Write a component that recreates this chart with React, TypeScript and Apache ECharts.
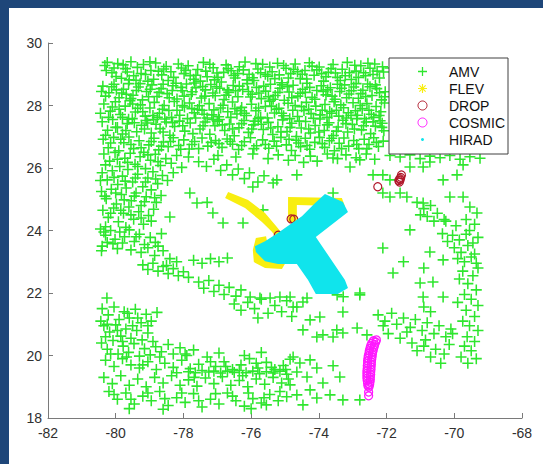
import React, { useEffect, useRef } from "react";
import * as echarts from "echarts";

// ---- AMV wind vectors (lon, lat) ----
const amvNorthBand: number[][] = [
  [-80.32,29.28],[-80.11,29.05],[-79.94,29.34],[-79.83,28.87],[-79.71,29.18],[-79.55,29.40],[-79.47,28.95],[-79.36,29.22],[-79.18,29.31],[-79.05,28.78],
  [-78.96,29.12],[-78.82,29.36],[-78.64,28.98],[-78.51,29.25],[-78.37,29.08],[-78.22,28.71],[-78.15,29.33],[-77.98,29.02],[-77.86,29.27],[-77.70,28.84],
  [-77.58,29.15],[-77.41,29.38],[-77.30,28.92],[-77.12,29.21],[-77.01,29.04],[-76.88,28.75],[-76.74,29.30],[-76.59,29.11],[-76.47,28.88],[-76.35,29.24],
  [-76.18,29.39],[-76.06,29.00],[-75.92,28.80],[-75.80,29.17],[-75.66,29.32],[-75.51,28.94],[-75.38,29.08],[-75.22,29.35],[-75.10,28.73],[-74.97,29.19],
  [-74.83,29.02],[-74.70,29.33],[-74.55,28.86],[-74.41,29.12],[-74.28,29.37],[-74.14,28.97],[-73.99,29.23],[-73.86,28.78],[-73.72,29.06],[-73.58,29.31],
  [-73.45,28.90],[-73.31,29.16],[-73.16,29.38],[-73.04,28.83],[-72.90,29.10],[-72.76,29.27],[-72.62,28.95],[-72.49,29.19],[-72.35,29.33],[-72.21,28.88],
  [-72.09,29.07],[-71.90,29.20],[-71.60,28.90],[-71.30,29.25],[-71.00,28.70],[-70.60,29.10],[-70.20,28.85],[-69.90,29.20],[-69.50,28.95],
  [-80.38,28.62],[-80.20,28.41],[-80.05,28.68],[-79.90,28.25],[-79.77,28.52],[-79.62,28.70],[-79.49,28.33],[-79.33,28.59],[-79.21,28.18],[-79.09,28.45],
  [-78.93,28.66],[-78.78,28.29],[-78.66,28.54],[-78.48,28.38],[-78.31,28.63],[-78.19,28.21],[-78.03,28.47],[-77.91,28.69],[-77.77,28.35],[-77.63,28.57],
  [-77.47,28.24],[-77.35,28.50],[-77.19,28.67],[-77.06,28.31],[-76.93,28.55],[-76.80,28.19],[-76.66,28.42],[-76.53,28.64],[-76.39,28.28],[-76.25,28.51],
  [-76.11,28.70],[-75.97,28.36],[-75.84,28.58],[-75.70,28.22],[-75.57,28.46],[-75.43,28.68],[-75.29,28.32],[-75.15,28.55],[-75.02,28.17],[-74.88,28.43],
  [-74.76,28.65],[-74.62,28.30],[-74.48,28.52],[-74.35,28.71],[-74.20,28.26],[-74.06,28.48],[-73.93,28.63],[-73.79,28.34],[-73.66,28.57],[-73.52,28.20],
  [-73.38,28.45],[-73.24,28.66],[-73.11,28.37],[-72.97,28.59],[-72.83,28.23],[-72.70,28.49],[-72.56,28.69],[-72.43,28.32],[-72.29,28.54],[-72.15,28.18],
  [-72.04,28.44],
  [-80.35,28.05],[-80.16,27.82],[-80.01,28.12],[-79.86,27.71],[-79.72,27.98],[-79.58,28.15],[-79.42,27.79],[-79.27,28.02],[-79.13,27.66],[-78.99,27.92],
  [-78.86,28.10],[-78.71,27.75],[-78.57,28.00],[-78.43,27.84],[-78.27,28.13],[-78.11,27.69],[-77.97,27.95],[-77.82,28.08],[-77.68,27.77],[-77.53,27.99],
  [-77.39,27.72],[-77.24,28.06],[-77.10,27.86],[-76.96,27.64],[-76.83,28.01],[-76.69,27.80],[-76.55,28.11],[-76.42,27.73],[-76.28,27.94],[-76.14,27.68],
  [-75.99,28.04],[-75.86,27.83],[-75.72,27.62],[-75.58,27.97],[-75.45,28.14],[-75.31,27.76],[-75.18,27.91],[-75.04,27.67],[-74.91,28.07],[-74.77,27.85],
  [-74.63,27.65],[-74.51,27.96],[-74.37,28.10],[-74.23,27.74],[-74.09,27.98],[-73.96,27.70],[-73.82,28.03],[-73.68,27.81],[-73.55,28.12],[-73.41,27.66],
  [-73.27,27.93],[-73.13,27.77],[-72.99,28.09],[-72.86,27.69],[-72.72,27.90],[-72.58,28.06],[-72.45,27.72],[-72.31,27.97],[-72.17,27.80],[-72.06,28.08],
  [-80.40,27.48],[-80.24,27.21],[-80.09,27.55],[-79.95,27.30],[-79.80,27.09],[-79.66,27.42],[-79.51,27.58],[-79.38,27.16],[-79.24,27.37],[-79.10,27.52],
  [-78.95,27.12],[-78.81,27.40],[-78.69,27.26],[-78.55,27.57],[-78.40,27.05],[-78.26,27.33],[-78.12,27.50],[-77.96,27.18],[-77.80,27.44],[-77.64,27.60],
  [-77.51,27.25],[-77.36,27.47],[-77.22,27.08],[-77.07,27.35],[-76.94,27.55],[-76.78,27.20],[-76.64,27.41],[-76.50,27.03],[-76.36,27.29],[-76.21,27.52],
  [-76.08,27.14],[-75.93,27.38],[-75.79,27.58],[-75.64,27.23],[-75.49,27.46],[-75.36,27.07],[-75.21,27.32],[-75.07,27.54],[-74.94,27.17],[-74.80,27.43],
  [-74.66,27.01],[-74.52,27.28],[-74.39,27.49],[-74.25,27.12],[-74.11,27.36],[-73.97,27.57],[-73.84,27.20],[-73.70,27.45],[-73.57,27.04],[-73.43,27.31],
  [-73.29,27.53],[-73.15,27.15],[-73.01,27.39],[-72.88,27.58],[-72.74,27.22],[-72.60,27.47],[-72.47,27.10],[-72.33,27.34],[-72.19,27.51],[-72.08,27.19],
  [-80.37,26.92],[-80.22,26.65],[-80.06,26.98],[-79.91,26.55],[-79.76,26.81],[-79.61,26.99],[-79.47,26.62],[-79.31,26.87],[-79.17,26.50],[-79.02,26.74],
  [-78.87,26.95],[-78.73,26.58],[-78.59,26.83],[-78.45,26.68],[-78.30,26.97],[-78.14,26.72],[-77.99,26.90],[-77.83,26.61],[-77.67,26.85],[-77.45,26.96],
  [-77.28,26.70],[-77.05,26.88],[-76.86,26.66],[-76.71,26.93],[-76.55,26.76],[-76.37,26.59],[-76.20,26.84],[-76.02,26.97],[-75.84,26.71],[-75.66,26.90],
  [-75.48,26.63],[-75.32,26.86],[-75.12,26.98],[-74.96,26.74],[-74.81,26.56],[-74.67,26.89],[-74.54,26.68],[-74.40,26.95],[-74.27,26.60],[-74.12,26.82],
  [-73.98,26.98],[-73.83,26.66],[-73.69,26.87],[-73.54,26.55],[-73.40,26.79],[-73.26,26.96],[-73.12,26.70],[-72.97,26.88],[-72.82,26.62],[-72.66,26.92],
  [-72.52,26.75],[-72.38,26.97],[-72.24,26.69],[-72.10,26.86],
  [-80.28,29.12],[-79.99,28.93],[-79.66,29.07],[-79.40,28.81],[-79.12,28.99],[-78.88,28.84],[-78.58,29.17],[-78.29,28.90],[-77.93,29.13],[-77.63,28.97],
  [-77.34,29.10],[-77.08,28.82],[-76.81,29.06],[-76.51,28.96],[-76.23,29.14],[-75.96,28.89],[-75.72,29.05],[-75.45,29.23],[-75.17,28.98],[-74.90,28.88],
  [-74.63,29.08],[-74.36,28.85],[-74.06,29.14],[-73.79,28.92],[-73.51,29.04],[-73.22,28.95],[-72.94,29.29],[-72.68,29.05],[-72.40,28.99],[-72.12,29.24],
  [-80.30,28.30],[-79.98,28.50],[-79.69,28.36],[-79.39,28.48],[-79.03,28.28],[-78.72,28.42],[-78.42,28.25],[-78.07,28.58],[-77.74,28.44],[-77.43,28.61],
  [-77.13,28.40],[-76.74,28.33],[-76.46,28.47],[-76.02,28.27],[-75.77,28.40],[-75.49,28.28],[-75.21,28.42],[-74.93,28.60],[-74.55,28.39],[-74.27,28.58],
  [-73.87,28.45],[-73.61,28.30],[-73.33,28.55],[-73.04,28.47],[-72.76,28.38],[-72.49,28.60],[-72.21,28.41],
  [-80.21,27.62],[-79.90,27.88],[-79.62,27.56],[-79.35,27.91],[-79.06,27.44],[-78.77,27.62],[-78.51,27.47],[-78.19,27.85],[-77.88,27.58],[-77.58,27.87],
  [-77.30,27.60],[-77.00,27.50],[-76.60,27.62],[-76.31,27.83],[-75.89,27.50],[-75.52,27.60],[-75.25,27.88],[-74.86,27.58],[-74.44,27.84],[-74.16,27.59],
  [-73.76,27.62],[-73.48,27.85],[-73.19,27.60],[-72.92,27.83],[-72.65,27.58],[-72.38,27.62],[-72.13,27.43],
  [-80.25,29.38],[-80.05,29.20],[-79.78,29.30],[-79.60,28.82],[-79.25,29.02],[-78.99,29.40],[-78.74,29.10],[-78.45,28.80],[-78.06,29.20],[-77.80,28.95],
  [-77.50,28.78],[-77.22,29.32],[-76.98,28.90],[-76.68,29.18],[-76.40,29.02],[-76.12,28.82],[-75.86,29.34],[-75.58,29.00],[-75.30,28.86],[-75.04,29.28],
  [-74.75,29.15],[-74.49,29.00],[-74.20,29.26],[-73.92,29.02],[-73.64,29.18],[-73.37,28.80],[-73.10,29.05],[-72.83,28.90],[-72.55,29.35],[-72.28,29.10],
  [-80.42,28.45],[-80.12,28.60],[-79.82,28.40],[-79.55,28.22],[-79.28,28.70],[-78.98,28.52],[-78.60,28.68],[-78.33,28.48],[-77.98,28.30],[-77.68,28.72],
  [-77.37,28.30],[-77.02,28.60],[-76.70,28.50],[-76.35,28.62],[-76.08,28.45],[-75.63,28.62],[-75.35,28.20],[-75.08,28.66],[-74.80,28.25],[-74.40,28.42],
  [-74.12,28.20],[-73.74,28.50],[-73.45,28.68],[-73.18,28.25],[-72.90,28.70],[-72.62,28.28],[-72.33,28.66],[-72.05,28.28],
  [-80.45,27.75],[-80.10,27.95],[-79.80,27.62],[-79.50,28.05],[-79.20,27.80],[-78.90,27.68],[-78.62,27.88],[-78.35,27.62],[-78.03,28.00],[-77.75,27.90],
  [-77.45,27.85],[-77.16,27.70],[-76.90,27.92],[-76.48,27.90],[-76.20,27.75],[-75.78,27.92],[-75.40,27.98],[-75.10,27.75],[-74.70,28.00],[-74.30,27.88],
  [-73.90,27.85],[-73.62,27.75],[-73.35,28.02],[-73.05,27.68],[-72.78,28.00],[-72.52,27.85],[-72.22,27.68],
  [-80.30,27.05],[-80.00,27.30],[-79.70,27.20],[-79.45,27.45],[-79.15,27.25],[-78.88,27.55],[-78.60,27.15],[-78.32,27.45],[-78.02,27.35],[-77.72,27.10],
  [-77.42,27.35],[-77.12,27.55],[-76.85,27.38],[-76.55,27.25],[-76.28,27.42],[-75.98,27.25],[-75.70,27.40],[-75.42,27.28],[-75.12,27.15],[-74.85,27.30],
  [-74.58,27.50],[-74.30,27.25],[-74.00,27.15],[-73.75,27.38],[-73.48,27.18],[-73.20,27.42],[-72.95,27.25],[-72.68,27.35],[-72.40,27.48],[-72.14,27.30],
  [-80.15,26.80],[-79.85,26.92],[-79.55,26.75],[-79.25,26.65],[-78.95,26.85],[-78.65,26.70],[-78.38,26.85],[-78.08,26.60],[-77.75,26.75],[-77.55,26.62],
  [-77.18,26.82],[-76.95,26.78],[-76.62,26.85],[-76.28,26.72],[-75.92,26.62],[-75.58,26.75],[-75.25,26.70],[-74.88,26.92],[-74.60,26.80],[-74.35,26.72],
  [-73.90,26.78],[-73.62,26.95],[-73.33,26.62],[-72.88,26.75],[-72.58,26.62],[-72.30,26.82],
  [-77.55,26.20],[-77.32,26.05],[-77.10,26.28],[-76.90,25.92],[-76.72,26.10],[-76.55,25.78],[-76.38,25.97],[-76.20,25.66],[-76.05,25.85],[-75.80,25.55],
  [-75.62,25.75],[-76.98,26.40],[-76.45,26.35],[-75.95,26.45],[-75.50,26.30],[-75.20,26.42],[-74.90,26.25],[-74.70,26.40],[-74.45,26.18],[-74.25,26.38],
  [-74.05,26.22],[-73.75,26.45],[-73.45,26.30],[-73.20,26.42],[-72.90,26.33],[-72.60,26.45],[-72.35,26.28],
];

const amvWestColumn: number[][] = [
  [-80.35,26.45],[-80.18,26.22],[-80.02,26.50],[-79.88,26.05],[-79.73,26.31],[-79.57,26.47],[-79.43,26.12],[-79.28,26.36],[-79.12,25.98],[-78.97,26.25],
  [-78.83,26.44],[-78.68,26.08],[-78.52,26.30],[-78.36,26.15],[-78.20,26.40],[-78.05,26.02],[-77.85,26.35],
  [-80.40,25.85],[-80.25,25.62],[-80.10,25.91],[-79.94,25.47],[-79.80,25.74],[-79.64,25.95],[-79.50,25.55],[-79.35,25.80],[-79.20,25.40],[-79.05,25.68],
  [-78.90,25.88],[-78.76,25.50],[-78.62,25.76],[-78.47,25.60],[-78.30,25.85],
  [-80.42,25.25],[-80.28,25.02],[-80.13,25.32],[-79.98,24.85],[-79.83,25.15],[-79.69,25.36],[-79.54,24.95],[-79.40,25.20],[-79.25,24.80],[-79.10,25.08],
  [-78.95,25.30],[-78.80,24.90],[-78.66,25.12],
  [-80.38,24.65],[-80.22,24.42],[-80.06,24.72],[-79.92,24.28],[-79.77,24.55],[-79.61,24.75],[-79.47,24.36],[-79.32,24.60],[-79.18,24.20],[-79.03,24.48],
  [-78.88,24.68],[-80.30,24.12],[-79.70,24.10],
  [-80.45,24.05],[-80.30,23.85],[-80.15,24.00],[-80.02,23.72],[-79.88,23.95],[-79.74,23.80],[-79.60,24.02],[-79.45,23.65],[-79.30,23.88],[-79.15,23.55],
  [-78.98,23.78],[-78.83,23.62],[-78.65,23.90],[-80.40,23.50],[-80.25,23.62],[-80.42,23.35],[-79.95,23.42],[-79.55,23.38],[-79.25,23.30],[-79.05,23.45],
  [-78.85,23.20],[-78.60,23.35],[-78.40,23.10],[-78.20,23.00],[-78.50,22.88],
  [-80.30,26.10],[-79.95,26.28],[-79.65,26.18],[-79.35,26.05],[-79.05,26.42],[-78.75,26.20],[-80.45,25.60],[-80.05,25.70],[-79.72,25.58],[-79.42,25.68],
  [-79.12,25.55],[-78.82,25.65],[-80.32,25.10],[-80.00,25.20],[-79.75,24.98],[-79.45,25.10],[-79.15,24.92],[-78.85,25.05],[-80.15,24.55],[-79.85,24.65],
  [-79.55,24.50],[-79.25,24.40],[-78.95,24.30],[-80.35,23.95],[-80.08,23.58],[-79.80,23.60],[-79.40,23.80],[-78.75,23.50],
];

const amvCentralBelt: number[][] = [
  [-79.20,22.90],[-79.05,22.75],[-78.90,22.95],[-78.75,22.70],[-78.60,22.85],[-78.45,22.62],[-78.30,22.78],[-78.15,22.55],[-78.00,22.68],[-77.85,22.50],
  [-77.70,23.05],[-77.45,22.95],[-77.20,23.10],[-76.95,23.00],[-76.70,23.12],
  [-77.55,22.35],[-77.40,22.15],[-77.25,22.40],[-77.10,22.05],[-76.95,22.25],[-76.80,21.95],[-76.65,22.18],[-76.45,21.90],[-76.30,22.10],
  [-76.50,21.65],[-76.30,21.45],[-76.10,21.70],[-75.90,21.50],[-75.70,21.80],[-75.50,21.35],[-75.30,21.60],[-75.10,21.40],[-74.95,21.75],[-74.80,21.25],
  [-74.65,21.55],[-75.80,21.20],
  [-76.03,21.87],[-75.74,21.84],[-75.44,21.84],[-75.15,21.87],[-74.85,21.87],[-74.35,21.84],[-73.46,21.94],[-73.28,21.88],[-72.79,22.00],
  [-74.47,21.71],[-74.76,21.55],[-73.97,21.23],[-74.26,21.14],[-73.29,21.39],[-74.47,20.82],[-74.06,20.59],[-73.88,20.66],[-73.47,20.82],[-73.58,20.59],
  [-73.29,20.72],[-72.87,20.88],[-72.58,20.66],[-72.79,21.94],
  [-78.40,24.43],[-77.81,25.20],[-77.60,24.88],[-77.30,24.90],[-77.13,24.56],[-76.83,24.24],[-76.24,24.24],[-75.65,24.66],[-75.95,25.39],[-75.35,25.52],
  [-75.24,25.62],[-80.26,21.84],
];

const amvSouthBand: number[][] = [
  [-80.40,21.50],[-80.22,21.30],[-80.05,21.55],[-79.90,21.15],[-79.75,21.40],[-79.60,21.20],[-79.42,21.48],[-79.25,21.05],[-79.10,21.32],[-78.95,21.10],
  [-78.78,21.38],[-80.35,20.95],[-80.18,20.75],[-80.00,20.98],[-79.85,20.62],[-79.70,20.85],[-79.55,20.55],[-79.38,20.80],[-79.22,20.50],[-79.05,20.72],
  [-78.90,20.45],[-80.42,20.40],[-80.25,20.20],[-80.08,20.48],[-79.93,20.05],[-79.78,20.30],[-79.62,20.10],[-79.46,20.38],[-79.30,19.98],[-79.15,20.22],
  [-78.98,20.02],[-78.82,20.28],[-78.65,20.12],[-78.45,20.35],[-78.30,20.05],[-78.10,20.25],[-77.90,20.00],[-77.70,20.18],[-80.44,21.10],[-79.50,20.95],
  [-80.30,19.85],[-80.05,19.65],[-79.80,19.90],[-79.55,19.70],[-79.30,19.60],[-79.05,19.80],[-78.80,19.55],[-78.55,19.75],[-78.30,19.62],[-78.05,19.85],
  [-77.80,19.58],[-77.55,19.72],[-77.30,19.95],[-77.05,19.65],[-76.80,19.80],[-76.55,19.55],[-76.30,19.70],[-76.05,19.90],[-75.80,19.60],[-75.55,19.78],
  [-75.30,19.55],[-75.05,19.68],[-74.85,19.88],[-77.95,20.05],[-76.95,20.08],[-76.20,20.00],[-75.70,20.10],
  [-77.85,19.48],[-77.65,19.45],[-77.45,19.52],[-77.25,19.47],[-77.10,19.50],[-76.90,19.44],[-76.70,19.50],[-76.50,19.46],[-76.35,19.52],[-76.15,19.45],
  [-75.95,19.50],[-75.75,19.42],[-75.55,19.48],[-75.35,19.44],[-75.15,19.50],[-74.95,19.40],
  [-80.35,19.30],[-80.10,19.10],[-79.85,19.35],[-79.60,19.05],[-79.35,19.25],[-79.10,19.00],[-78.85,19.30],[-78.60,19.12],[-78.35,19.35],[-78.10,19.05],
  [-77.85,19.22],[-77.60,19.02],[-77.35,19.28],[-77.10,19.10],[-76.85,19.32],[-76.60,19.05],[-76.35,19.20],[-76.10,19.00],[-75.85,19.25],[-75.60,19.08],
  [-75.35,19.30],[-75.10,19.12],[-74.90,19.25],
  [-80.20,18.85],[-79.95,18.60],[-79.70,18.80],[-79.45,18.45],[-79.20,18.70],[-78.95,18.55],[-78.70,18.85],[-78.45,18.40],[-78.20,18.65],[-77.95,18.50],
  [-77.70,18.78],[-77.45,18.35],[-77.20,18.60],[-76.95,18.45],[-76.70,18.80],[-76.45,18.55],[-76.20,18.38],[-75.95,18.62],[-75.70,18.48],[-75.45,18.75],
  [-75.20,18.55],[-74.95,18.68],[-79.60,18.30],[-78.60,18.28],[-76.00,18.30],[-75.55,18.42],
  [-74.76,19.95],[-74.56,19.76],[-74.26,19.86],[-74.65,19.47],[-74.35,19.31],[-74.06,19.60],[-73.88,19.12],[-74.26,18.90],[-74.65,18.74],[-73.67,18.74],
  [-73.38,19.31],[-73.29,18.58],[-74.06,18.64],[-73.58,19.67],[-74.85,19.06],[-74.47,18.42],[-72.79,18.58],
  [-80.15,20.05],[-79.68,19.95],[-79.20,19.70],[-78.70,19.95],[-78.20,19.45],[-77.68,19.30],[-77.20,19.80],[-76.75,19.65],[-76.25,19.35],[-75.85,19.75],
  [-75.40,19.62],[-74.98,19.55],[-80.05,18.75],[-79.55,18.60],[-79.05,18.80],[-78.55,18.62],[-78.05,18.80],[-77.55,18.55],[-77.05,18.78],[-76.55,18.70],
  [-76.08,18.80],[-75.62,18.65],[-75.15,18.85],[-80.25,21.00],[-79.95,20.80],[-79.65,21.35],[-79.35,21.20],[-79.05,20.95],[-80.30,20.60],[-79.80,20.45],
];

const amvEastColumn: number[][] = [
  [-73.58,25.20],[-72.11,25.20],[-71.90,25.07],[-71.60,25.20],[-71.40,25.07],[-70.92,24.88],[-71.10,24.90],[-70.90,24.70],[-70.70,24.80],[-70.50,24.55],
  [-70.80,24.45],[-70.30,24.35],[-70.60,24.30],[-71.00,24.50],[-70.13,25.07],[-69.74,25.07],[-69.54,24.75],[-69.33,24.56],
  [-74.65,25.78],[-73.58,26.32],[-73.08,26.03],[-72.79,26.26],[-72.40,25.78],[-72.11,25.78],[-71.90,25.62],[-71.31,26.03],[-70.92,26.03],[-70.72,26.19],
  [-69.92,25.78],[-70.33,25.62],[-69.74,26.10],
  [-71.90,26.40],[-71.60,26.35],[-71.31,26.42],[-71.01,26.30],[-70.72,26.38],[-70.42,26.33],[-70.13,26.40],[-69.83,26.28],[-69.54,26.36],[-69.24,26.31],
  [-70.05,23.85],[-69.85,23.70],[-69.65,23.88],[-69.45,23.60],[-69.30,23.78],[-70.00,23.45],[-69.80,23.30],[-69.60,23.52],[-69.40,23.25],[-69.90,23.10],
  [-69.70,23.00],[-69.50,23.15],[-69.35,22.95],[-70.20,23.65],[-70.35,23.90],[-69.55,24.00],[-69.95,24.15],[-70.25,24.30],[-69.65,24.35],[-69.40,24.20],
  [-69.75,22.70],[-69.45,22.55],[-69.30,22.80],[-69.60,22.30],[-69.35,22.10],[-69.70,21.95],[-69.50,21.80],[-69.30,21.60],[-69.65,21.45],[-69.40,21.25],
  [-69.75,21.10],[-69.55,20.95],[-69.30,20.80],[-69.62,20.60],[-69.40,20.45],[-69.70,20.30],[-69.50,20.15],[-69.80,19.95],[-69.35,19.90],[-69.60,19.75],
  [-69.85,22.45],[-69.90,21.70],[-70.05,20.70],
  [-72.25,21.30],[-72.05,21.10],[-71.85,21.35],[-71.70,21.00],[-71.50,21.20],[-71.30,20.90],[-71.15,21.15],[-70.95,20.80],[-70.80,21.05],[-70.60,20.70],
  [-70.45,20.95],[-70.25,20.60],[-70.10,20.85],[-71.95,20.70],[-71.60,20.55],[-71.25,20.40],[-70.90,20.30],[-70.55,20.20],[-70.30,20.05],[-70.70,19.95],
  [-70.40,19.75],[-72.10,20.95],[-71.40,20.75],[-70.85,20.50],[-70.15,20.35],[-71.10,20.15],
  [-72.11,23.44],[-71.81,22.64],[-71.01,22.32],[-70.63,22.35],[-71.31,24.02],[-70.72,23.31],[-70.33,23.06],[-71.50,23.00],[-70.90,22.80],
  [-70.92,21.87],[-70.33,21.87],[-70.90,21.55],[-70.70,21.40],
];

// ---- FLEV flight-level swaths (polygon outlines, lon/lat) ----
const flevTracks: number[][][] = [
  [[-76.68,25.23],[-76.09,24.98],[-75.59,24.56],[-75.24,24.11],[-75.00,23.79],[-75.21,23.70],[-75.38,23.95],[-75.68,24.27],[-76.18,24.72],[-76.77,25.04]],
  [[-74.91,25.07],[-73.32,25.04],[-73.23,24.78],[-74.65,24.82],[-74.65,24.27],[-74.91,24.27]],
  [[-75.86,23.76],[-75.56,23.82],[-75.50,23.50],[-75.06,23.44],[-74.97,22.99],[-75.09,22.77],[-75.59,22.80],[-75.92,22.99],[-75.95,23.38]],
];

// ---- DROP dropsondes ----
const dropPoints: number[][] = [
  [-72.26,25.40],
  [-71.62,25.55],[-71.60,25.62],[-71.58,25.70],[-71.56,25.78],[-71.61,25.66],[-71.64,25.60],
  [-74.82,24.37],[-74.74,24.36],[-75.20,23.85],[-74.86,23.70],[-75.05,23.30],[-74.50,23.90],
];

// ---- COSMIC occultation profile ----
const cosmicPoints: number[][] = [
  [-72.30,20.50],[-72.39,20.47],[-72.32,20.43],[-72.44,20.39],[-72.35,20.35],[-72.47,20.31],[-72.37,20.27],[-72.49,20.23],[-72.39,20.19],[-72.51,20.15],
  [-72.41,20.11],[-72.52,20.07],[-72.42,20.03],[-72.54,19.99],[-72.43,19.95],[-72.55,19.91],[-72.44,19.87],[-72.56,19.83],[-72.45,19.79],[-72.56,19.75],
  [-72.45,19.71],[-72.57,19.67],[-72.46,19.63],[-72.57,19.59],[-72.46,19.55],[-72.58,19.51],[-72.47,19.47],[-72.58,19.43],[-72.47,19.39],[-72.58,19.35],
  [-72.48,19.31],[-72.58,19.27],[-72.48,19.23],[-72.57,19.19],[-72.49,19.15],[-72.56,19.11],[-72.50,19.07],[-72.55,19.03],[-72.52,18.99],
  [-72.53,18.83],[-72.53,18.71],
];

// ---- HIRAD surface wind swath (polygon outline, lon/lat) ----
const hiradSwaths: number[][][] = [
  [[-73.82,25.17],[-73.29,24.91],[-73.14,24.59],[-74.09,23.79],[-73.23,22.42],[-73.14,22.16],[-73.44,21.97],[-74.09,21.97],
   [-74.32,22.42],[-74.65,22.93],[-75.21,22.93],[-75.59,23.02],[-75.86,23.31],[-75.89,23.50],[-75.59,23.66],[-75.21,23.92],
   [-74.79,24.24],[-74.50,24.46],[-74.11,24.88]],
];

const seriesNames = ["AMV", "FLEV", "DROP", "COSMIC", "HIRAD"];

const GREEN = "#2ee62e";
const YELLOW = "#f8ee10";
const DARK_RED = "#b0182a";
const MAGENTA = "#ff18ff";
const CYAN = "#10e4ec";
const FONT = '"Liberation Sans", Arial, Helvetica, sans-serif';

const PLUS =
  "path://M-1.4,-10H1.4V-1.4H10V1.4H1.4V10H-1.4V1.4H-10V-1.4H-1.4Z";
const ASTERISK =
  "path://M-1.3,-10H1.3V-1.3H10V1.3H1.3V10H-1.3V1.3H-10V-1.3H-1.3Z" +
  "M-7.9,-6.1L-6.1,-7.9L7.9,6.1L6.1,7.9Z" +
  "M6.1,-7.9L7.9,-6.1L-6.1,7.9L-7.9,6.1Z";

const polygonRenderer = (polys: number[][][], fill: string) =>
  (params: any, api: any) => ({
    type: "polygon",
    shape: { points: polys[params.dataIndex].map((p) => api.coord(p)) },
    style: { fill },
  });

export default function App() {
  const ref = useRef<HTMLDivElement>(null);

  useEffect(() => {
    if (!ref.current) return;
    const chart = echarts.init(ref.current, null, { renderer: "svg" });
    const amvAll = [
      ...amvNorthBand,
      ...amvWestColumn,
      ...amvCentralBelt,
      ...amvSouthBand,
      ...amvEastColumn,
    ];
    const axisCommon = {
      type: "value" as const,
      interval: 2,
      splitLine: { show: false },
      axisLine: { show: true, onZero: false, lineStyle: { color: "#7a7a7a", width: 1 } },
      axisTick: { show: true, inside: true, length: 5, lineStyle: { color: "#7a7a7a" } },
      axisLabel: {
        color: "#303030",
        fontSize: 14,
        fontFamily: FONT,
        showMinLabel: true,
        showMaxLabel: true,
      },
    };
    chart.setOption({
      animation: false,
      backgroundColor: "#ffffff",
      grid: { left: 39, right: 21, top: 35, bottom: 46, containLabel: false },
      xAxis: { ...axisCommon, min: -82, max: -68, axisLabel: { ...axisCommon.axisLabel, margin: 8 } },
      yAxis: { ...axisCommon, min: 18, max: 30, axisLabel: { ...axisCommon.axisLabel, margin: 6 } },
      legend: {
        z: 10,
        left: 380,
        top: 50,
        orient: "vertical",
        selectedMode: false,
        backgroundColor: "#ffffff",
        borderColor: "#404040",
        borderWidth: 1,
        borderRadius: 0,
        padding: [5, 3, 6, 26],
        itemWidth: 9,
        itemHeight: 9,
        itemGap: 0,
        textStyle: {
          color: "#111111",
          fontSize: 14,
          fontFamily: FONT,
          lineHeight: 17,
          padding: [0, 0, 0, 17],
        },
        data: [
          { name: "AMV", icon: PLUS, itemStyle: { color: GREEN, borderWidth: 0 } },
          { name: "FLEV", icon: ASTERISK, itemStyle: { color: YELLOW, borderWidth: 0 } },
          { name: "DROP", icon: "circle", itemStyle: { color: "rgba(0,0,0,0)", borderColor: DARK_RED, borderWidth: 1 } },
          { name: "COSMIC", icon: "circle", itemStyle: { color: "rgba(0,0,0,0)", borderColor: MAGENTA, borderWidth: 1 } },
          { name: "HIRAD", icon: "circle", itemStyle: { color: CYAN, borderColor: "#ffffff", borderWidth: 6 } },
        ],
      },
      series: [
        {
          name: seriesNames[0],
          type: "scatter",
          z: 2,
          symbol: PLUS,
          symbolSize: 11,
          itemStyle: { color: GREEN, opacity: 1 },
          data: amvAll,
        },
        {
          name: seriesNames[1],
          type: "custom",
          z: 3,
          renderItem: polygonRenderer(flevTracks, YELLOW),
          itemStyle: { color: YELLOW },
          data: flevTracks.map((p) => p[0]),
        },
        {
          name: seriesNames[2],
          type: "scatter",
          z: 4,
          symbol: "circle",
          symbolSize: 8,
          itemStyle: { color: "rgba(0,0,0,0)", borderColor: DARK_RED, borderWidth: 1.2, opacity: 1 },
          data: dropPoints,
        },
        {
          name: seriesNames[3],
          type: "scatter",
          z: 4,
          symbol: "circle",
          symbolSize: 8,
          itemStyle: { color: "rgba(0,0,0,0)", borderColor: MAGENTA, borderWidth: 1.3, opacity: 1 },
          data: cosmicPoints,
        },
        {
          name: seriesNames[4],
          type: "custom",
          z: 5,
          renderItem: polygonRenderer(hiradSwaths, CYAN),
          itemStyle: { color: CYAN },
          data: hiradSwaths.map((p) => p[0]),
        },
      ],
    });
    return () => chart.dispose();
  }, []);

  return (
    <div
      style={{
        position: "fixed",
        left: 0,
        top: 0,
        width: 543,
        height: 464,
        background: "#1e4679",
      }}
    >
      <div
        ref={ref}
        style={{
          position: "absolute",
          left: 9,
          top: 8,
          width: 534,
          height: 456,
          background: "#ffffff",
        }}
      />
    </div>
  );
}
